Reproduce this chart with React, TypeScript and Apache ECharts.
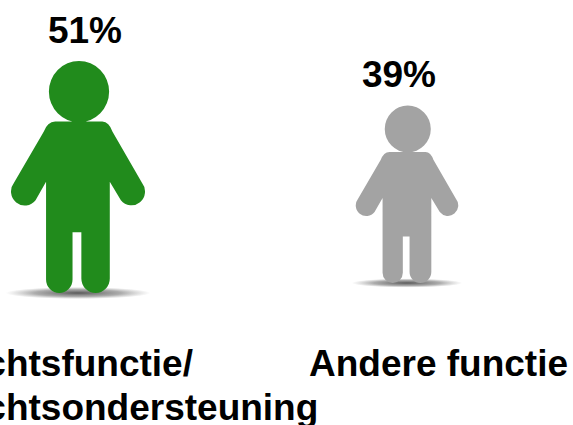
import React, { useEffect, useRef } from "react";
import * as echarts from "echarts";

const categories = ["Rechtsfunctie/\nRechtsondersteuning", "Andere functie"];
const values = [51, 39];
const valueLabels = ["51%", "39%"];
const colors = ["#218B1C", "#A3A3A3"];

const FONT = "bold 37px 'Liberation Sans', Arial, sans-serif";
const FIGURE =
  "M55 120.7 L103 120.7 Q110 121 113.5 131 L143.5 182 A13 13 0 0 1 122 199.5 L110.7 181 L110.7 278 A14.5 14.5 0 0 1 81.7 278 L81.7 231.7 L72.7 231.7 L72.7 279 A13.5 13.5 0 0 1 45.7 279 L45.7 181 L35 199.5 A13 13 0 0 1 13 182 L43.3 131 Q47 121 55 120.7 Z " +
  "M48.6 90.7 A30.7 30.7 0 1 1 110 90.7 A30.7 30.7 0 1 1 48.6 90.7 Z";
const ASPECT = 134 / 232;
const PX_PER_UNIT = 232 / 51;
const FOOT_Y = 293;
const FOOT_LIFT = [0, 10];
const VALUE_DX = [7, -8];
const CATEGORY_X = [-62, 309];
const CATEGORY_Y = [385, 363];

const App = () => {
  const ref = useRef<HTMLDivElement>(null);
  useEffect(() => {
    document.body.style.margin = "0";
    const chart = echarts.init(ref.current!, null, { renderer: "svg" });
    chart.setOption({
      animation: false,
      grid: { left: 78, width: 329, top: 0, height: FOOT_Y },
      xAxis: { type: "category", data: categories, show: false, boundaryGap: false },
      yAxis: { type: "value", min: 0, max: FOOT_Y / PX_PER_UNIT, show: false },
      series: [
        {
          type: "custom",
          clip: false,
          data: categories.map((_, i) => [i, values[i]]),
          encode: { x: 0, y: 1 },
          renderItem: (params: any, api: any) => {
            const i = params.dataIndex;
            const v = api.value(1);
            const base = api.coord([i, 0]);
            const cx = base[0];
            const foot = base[1] - FOOT_LIFT[i];
            const h = api.size([0, v])[1];
            const w = h * ASPECT;
            return {
              type: "group",
              children: [
                {
                  type: "ellipse",
                  shape: { cx, cy: foot, rx: w * 0.54, ry: h * 0.026 },
                  style: {
                    fill: new echarts.graphic.RadialGradient(0.5, 0.5, 0.5, [
                      { offset: 0, color: "rgba(60,60,60,0.85)" },
                      { offset: 0.6, color: "rgba(90,90,90,0.5)" },
                      { offset: 1, color: "rgba(120,120,120,0)" },
                    ]),
                  },
                },
                {
                  type: "path",
                  shape: {
                    pathData: FIGURE,
                    layout: "cover",
                    x: cx - w / 2,
                    y: foot - h,
                    width: w,
                    height: h,
                  },
                  style: { fill: colors[i] },
                },
                {
                  type: "text",
                  style: {
                    text: valueLabels[i],
                    x: cx + VALUE_DX[i],
                    y: foot - h - 31,
                    align: "center",
                    verticalAlign: "middle",
                    font: FONT,
                    fill: "#000",
                  },
                },
                {
                  type: "text",
                  style: {
                    text: categories[i],
                    x: CATEGORY_X[i],
                    y: CATEGORY_Y[i],
                    align: "left",
                    verticalAlign: "middle",
                    lineHeight: 44,
                    font: FONT,
                    fill: "#000",
                  },
                },
              ],
            };
          },
        },
      ],
    });
    return () => chart.dispose();
  }, []);
  return <div ref={ref} style={{ width: 573, height: 425 }} />;
};

export default App;
